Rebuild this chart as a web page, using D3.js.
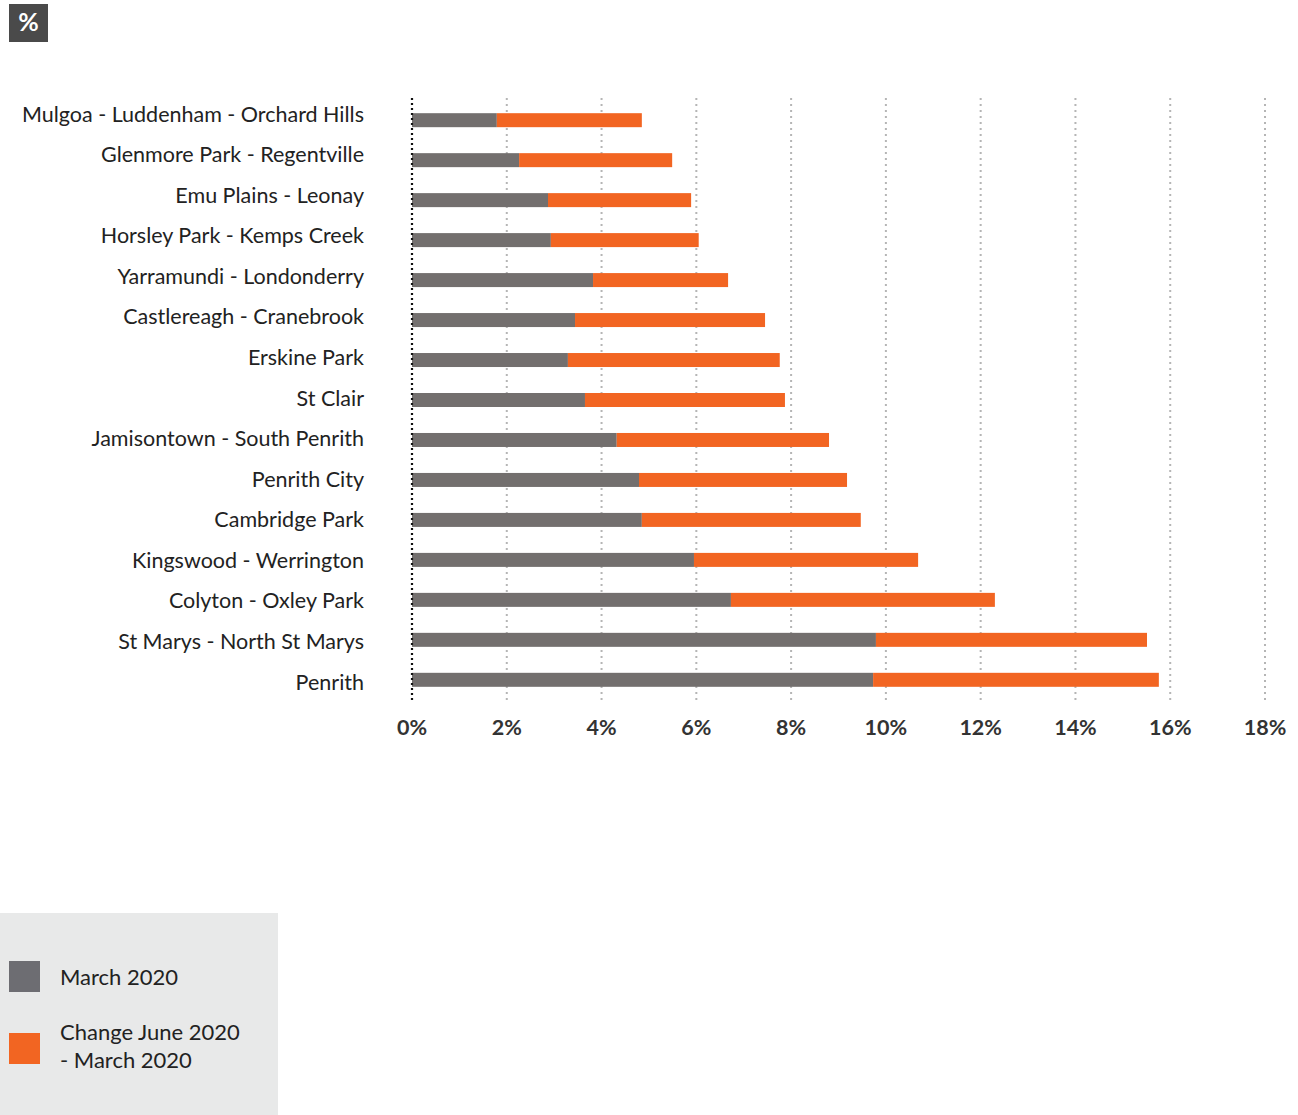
<!doctype html>
<html lang="en">
<head>
<meta charset="UTF-8">
<title>Unemployment Penrith</title>
<script src="https://d3js.org/d3.v7.min.js"></script>
<style>
    body { margin: 0; background: #fff; }
    svg { display: block; font-family: Lato, "Open Sans", sans-serif; }
</style>
</head>
<body>
<div id="chart"></div>
<script>
    // categories top to bottom
    const areas = [
        "Mulgoa - Luddenham - Orchard Hills",
        "Glenmore Park - Regentville",
        "Emu Plains - Leonay",
        "Horsley Park - Kemps Creek",
        "Yarramundi - Londonderry",
        "Castlereagh - Cranebrook",
        "Erskine Park",
        "St Clair",
        "Jamisontown - South Penrith",
        "Penrith City",
        "Cambridge Park",
        "Kingswood - Werrington",
        "Colyton - Oxley Park",
        "St Marys - North St Marys",
        "Penrith"
    ];
    // March 2020 rate (%)
    const march2020 = [1.79, 2.26, 2.87, 2.93, 3.82, 3.44, 3.29, 3.65, 4.32, 4.79, 4.85, 5.95, 6.73, 9.79, 9.73];
    // change June 2020 - March 2020 (%)
    const change = [3.06, 3.23, 3.02, 3.12, 2.85, 4.01, 4.47, 4.22, 4.48, 4.39, 4.62, 4.73, 5.57, 5.72, 6.03];
    const ticks = [0, 2, 4, 6, 8, 10, 12, 14, 16, 18];
    const seriesNames = ["March 2020", "Change June 2020 - March 2020"];
    const colors = ["#736f6e", "#f26522"];

    const W = 1298, H = 1115;
    const svg = d3.select("#chart").append("svg")
        .attr("width", W).attr("height", H);

    // % badge
    svg.append("rect").attr("x", 9).attr("y", 4).attr("width", 39).attr("height", 38).attr("fill", "#4a4a4a");
    svg.append("text").attr("x", 28.5).attr("y", 31).attr("text-anchor", "middle")
        .attr("fill", "#fff").attr("font-size", 25).attr("font-weight", 700).text("%");

    const x = d3.scaleLinear().domain([0, 18]).range([412, 1265]);
    const y = d3.scaleBand().domain(areas).range([100, 700]).paddingInner(0.65).paddingOuter(0.33);
    const yLabel = d3.scalePoint().domain(areas).range([114, 682]);

    // gridlines
    svg.append("g").selectAll("line")
        .data(ticks.slice(1))
        .join("line")
        .attr("x1", d => x(d)).attr("x2", d => x(d))
        .attr("y1", 98).attr("y2", 700)
        .attr("stroke", "#b5b5b5").attr("stroke-width", 2)
        .attr("stroke-dasharray", "2,4");

    // stacked bars
    const rows = areas.map((a, i) => ({ area: a, vals: [march2020[i], change[i]] }));
    const stack = d3.stack().keys([0, 1]).value((d, k) => d.vals[k]);
    const layers = stack(rows);

    svg.append("g").selectAll("g")
        .data(layers)
        .join("g")
        .attr("fill", (d, i) => colors[i])
        .selectAll("rect")
        .data(d => d)
        .join("rect")
        .attr("x", d => x(d[0]))
        .attr("y", d => y(d.data.area))
        .attr("width", d => x(d[1]) - x(d[0]))
        .attr("height", y.bandwidth());

    // axis line (dotted black)
    svg.append("line")
        .attr("x1", 412).attr("x2", 412).attr("y1", 98).attr("y2", 700)
        .attr("stroke", "#111").attr("stroke-width", 2.2)
        .attr("stroke-dasharray", "2,3");

    // category labels
    svg.append("g").selectAll("text")
        .data(areas)
        .join("text")
        .attr("x", 364)
        .attr("y", d => yLabel(d))
        .attr("dy", "0.35em")
        .attr("text-anchor", "end")
        .attr("font-size", 21.5)
        .attr("fill", "#222")
        .text(d => d);

    // x tick labels
    svg.append("g").selectAll("text")
        .data(ticks)
        .join("text")
        .attr("x", d => x(d))
        .attr("y", 735)
        .attr("text-anchor", "middle")
        .attr("font-size", 21.5)
        .attr("font-weight", 700)
        .attr("fill", "#333")
        .text(d => d + "%");

    // legend
    const lg = svg.append("g");
    lg.append("rect").attr("x", 0).attr("y", 913).attr("width", 278).attr("height", 202).attr("fill", "#e8e9e9");
    lg.append("rect").attr("x", 9).attr("y", 961).attr("width", 31).attr("height", 31).attr("fill", "#6d6d72");
    lg.append("rect").attr("x", 9).attr("y", 1033).attr("width", 31).attr("height", 31).attr("fill", colors[1]);
    lg.append("text").attr("x", 60).attr("y", 985).attr("font-size", 22).attr("fill", "#222").text(seriesNames[0]);
    lg.append("text").attr("x", 60).attr("y", 1040).attr("font-size", 22).attr("fill", "#222").text("Change June 2020");
    lg.append("text").attr("x", 60).attr("y", 1068).attr("font-size", 22).attr("fill", "#222").text("- March 2020");
</script>
</body>
</html>
